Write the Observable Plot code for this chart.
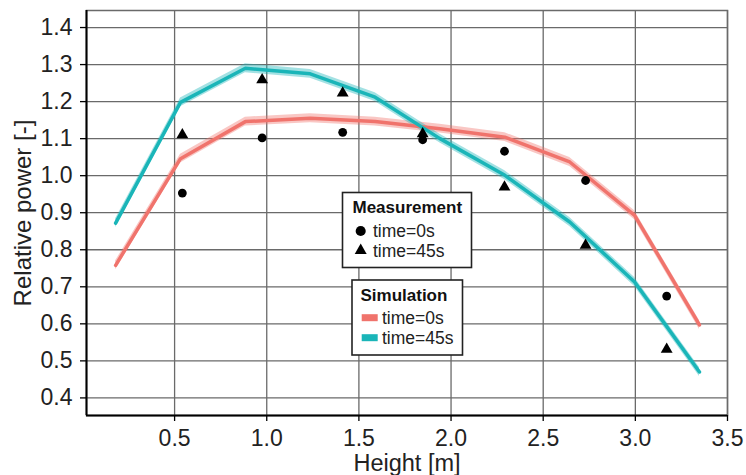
<!DOCTYPE html>
<html>
<head>
<meta charset="utf-8">
<script src="https://cdn.jsdelivr.net/npm/d3@7"></script>
<script src="https://cdn.jsdelivr.net/npm/@observablehq/plot@0.6"></script>
<style>
  body { margin: 0; background: #fff; }
  #wrap { position: relative; width: 746px; height: 475px; font-family: "Liberation Sans", Arial, sans-serif; }
  #legend { position: absolute; left: 0; top: 0; }
</style>
</head>
<body>
<div id="wrap"></div>
<script>
// ---- data ----
const simHeight = [0.18, 0.532, 0.884, 1.236, 1.588, 1.94, 2.292, 2.644, 2.996, 3.348];
const sim0s  = [0.758, 1.046, 1.146, 1.155, 1.146, 1.127, 1.104, 1.037, 0.893, 0.597];
const sim45s = [0.872, 1.198, 1.290, 1.275, 1.212, 1.100, 1.001, 0.875, 0.713, 0.470];
const simBand = 0.012;

const measHeight = [0.542, 0.975, 1.412, 1.846, 2.29, 2.73, 3.17];
const meas0s  = [0.953, 1.102, 1.117, 1.097, 1.066, 0.987, 0.675];
const meas45s = [1.110, 1.259, 1.223, 1.113, 0.969, 0.812, 0.531];

const xTicks = [0.5, 1.0, 1.5, 2.0, 2.5, 3.0, 3.5];
const yTicks = [0.4, 0.5, 0.6, 0.7, 0.8, 0.9, 1.0, 1.1, 1.2, 1.3, 1.4];
const xDomain = [0.022, 3.5];
const yDomain = [0.3525, 1.446];

const colRed = "#f0736c";
const colTeal = "#1ab5b8";

// ---- build tables ----
const simRows = (vals, series) => simHeight.map((h, i) => ({h, v: vals[i], lo: vals[i] - simBand, hi: vals[i] + simBand, series}));
const sim = [...simRows(sim0s, "0s"), ...simRows(sim45s, "45s")];
const meas0 = measHeight.map((h, i) => ({h, v: meas0s[i]}));
const meas45 = measHeight.map((h, i) => ({h, v: meas45s[i]}));

const chart = Plot.plot({
  width: 746,
  height: 475,
  marginLeft: 86,
  marginRight: 19,
  marginTop: 10,
  marginBottom: 60,
  style: {fontFamily: "'Liberation Sans', Arial, sans-serif", background: "#fff"},
  x: {domain: xDomain},
  y: {domain: yDomain},
  marks: [
    Plot.gridX(xTicks, {stroke: "#6a6a6a", strokeOpacity: 1, strokeWidth: 1.3}),
    Plot.gridY(yTicks, {stroke: "#6a6a6a", strokeOpacity: 1, strokeWidth: 1.3}),
    Plot.frame({stroke: "#6a6a6a", strokeWidth: 1.5}),
    Plot.areaY(sim.filter(d => d.series === "0s"), {x: "h", y1: "lo", y2: "hi", fill: colRed, fillOpacity: 0.4}),
    Plot.areaY(sim.filter(d => d.series === "45s"), {x: "h", y1: "lo", y2: "hi", fill: colTeal, fillOpacity: 0.4}),
    Plot.line(sim.filter(d => d.series === "0s"), {x: "h", y: "v", stroke: colRed, strokeWidth: 3.5}),
    Plot.line(sim.filter(d => d.series === "45s"), {x: "h", y: "v", stroke: colTeal, strokeWidth: 3.5}),
    Plot.dot(meas0, {x: "h", y: "v", symbol: "circle", r: 4.4, fill: "black", stroke: "none"}),
    Plot.dot(meas45, {x: "h", y: "v", symbol: "triangle", r: 4.4, fill: "black", stroke: "none"}),
    Plot.ruleX([xDomain[0]], {stroke: "black", strokeWidth: 2}),
    Plot.ruleY([yDomain[0]], {stroke: "black", strokeWidth: 2}),
    Plot.axisX(xTicks, {tickFormat: d3.format(".1f"), tickSize: 6, tickPadding: 8, fontSize: 23, stroke: "black", strokeWidth: 1.3, fill: "#222", label: null}),
    Plot.axisY(yTicks, {tickFormat: d3.format(".1f"), tickSize: 6, tickPadding: 8, fontSize: 23, stroke: "black", strokeWidth: 1.3, fill: "#222", label: null}),
    Plot.text(["Height [m]"], {frameAnchor: "bottom", dy: 48, fontSize: 23.5, fill: "#222", lineAnchor: "middle", textAnchor: "middle"}),
    Plot.text(["Relative power [-]"], {frameAnchor: "left", dx: -63, rotate: -90, fontSize: 24, fill: "#222", lineAnchor: "middle", textAnchor: "middle"})
  ]
});

const wrap = document.getElementById("wrap");
wrap.appendChild(chart);

// ---- legends (overlay) ----
const lg = d3.select(wrap).append("svg")
  .attr("id", "legend").attr("width", 746).attr("height", 475)
  .style("font-family", "'Liberation Sans', Arial, sans-serif");

const measLegend = [{label: "time=0s", sym: d3.symbolCircle, size: 80}, {label: "time=45s", sym: d3.symbolTriangle, size: 62}];
const simLegend = [{label: "time=0s", color: colRed}, {label: "time=45s", color: colTeal}];

// Measurement box
const gm = lg.append("g");
gm.append("rect").attr("x", 342.5).attr("y", 192.5).attr("width", 129).attr("height", 75)
  .attr("fill", "white").attr("stroke", "#222").attr("stroke-width", 1.6);
gm.append("text").attr("x", 352.5).attr("y", 213).attr("font-size", 17).attr("font-weight", "bold").attr("fill", "#111").text("Measurement");
measLegend.forEach((d, i) => {
  const cy = 231 + i * 19.5;
  gm.append("path").attr("d", d3.symbol(d.sym, d.size)()).attr("transform", `translate(360.7,${cy})`).attr("fill", "black");
  gm.append("text").attr("x", 373).attr("y", cy + 6).attr("font-size", 17.5).attr("fill", "#222").text(d.label);
});

// Simulation box
const gs = lg.append("g");
gs.append("rect").attr("x", 352).attr("y", 280).attr("width", 110.5).attr("height", 75)
  .attr("fill", "white").attr("stroke", "#222").attr("stroke-width", 1.6);
gs.append("text").attr("x", 360.5).attr("y", 300.5).attr("font-size", 17).attr("font-weight", "bold").attr("fill", "#111").text("Simulation");
simLegend.forEach((d, i) => {
  const cy = 317.7 + i * 20;
  gs.append("rect").attr("x", 361.7).attr("y", cy - 3.5).attr("width", 16).attr("height", 7).attr("fill", d.color);
  gs.append("text").attr("x", 382).attr("y", cy + 6.3).attr("font-size", 17.5).attr("fill", "#222").text(d.label);
});
</script>
</body>
</html>
